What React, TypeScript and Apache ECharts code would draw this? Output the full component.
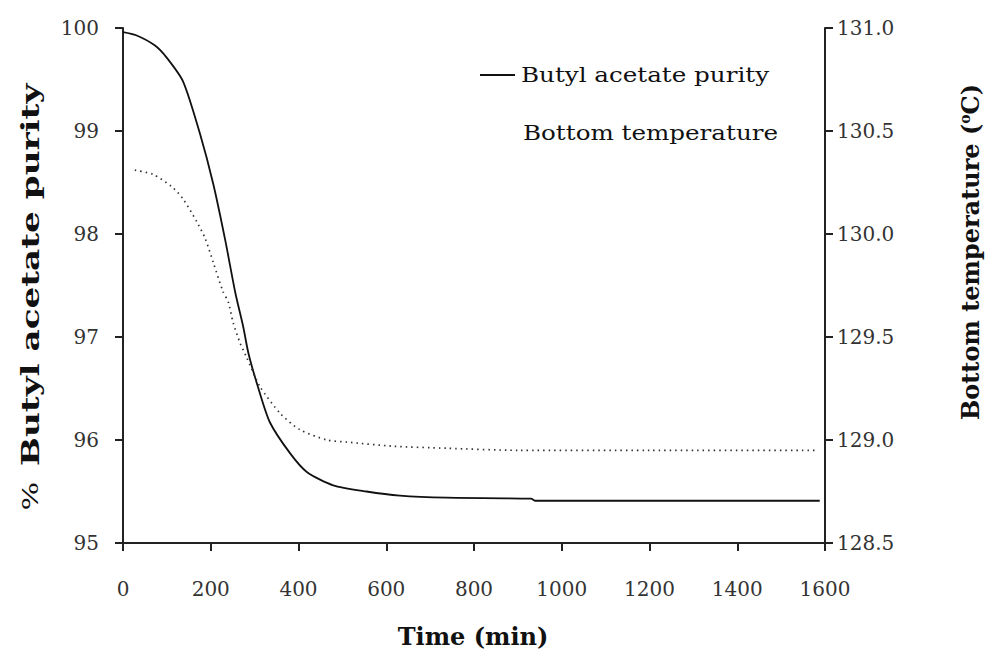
import React, { useEffect, useRef } from "react";
import * as echarts from "echarts";

const purityTime = [0, 30, 73, 100, 137, 175, 206, 233, 256, 274, 286, 308, 335, 381, 419, 479, 555, 631, 738, 930, 940, 1200, 1400, 1588];
const purityValues = [99.96, 99.93, 99.83, 99.71, 99.48, 98.98, 98.48, 97.94, 97.43, 97.1, 96.84, 96.51, 96.17, 95.87, 95.69, 95.56, 95.5, 95.46, 95.44, 95.43, 95.41, 95.41, 95.41, 95.41];

const tempTime = [27, 68, 111, 137, 168, 187, 206, 228, 240, 251, 267, 282, 312, 358, 403, 465, 510, 615, 738, 900, 1200, 1578];
const tempValues = [130.31, 130.29, 130.23, 130.17, 130.06, 129.98, 129.86, 129.72, 129.67, 129.57, 129.47, 129.4, 129.26, 129.13, 129.05, 129.0, 128.99, 128.97, 128.96, 128.95, 128.95, 128.95];

const seriesNames = ["Butyl acetate purity", "Bottom temperature"];
const xTitle = "Time (min)";

const FONT = "DejaVu Serif";

export default function App() {
  const ref = useRef<HTMLDivElement>(null);
  useEffect(() => {
    if (!ref.current) return;
    const chart = echarts.init(ref.current, null, { renderer: "svg" });
    const axisLine = { show: true, lineStyle: { color: "#222", width: 2 } };
    const axisTick = { show: true, inside: false, length: 8, lineStyle: { color: "#222", width: 2 } };
    const label = { color: "#333", fontFamily: FONT, fontSize: 20 };
    chart.setOption({
      animation: false,
      backgroundColor: "#fff",
      grid: { left: 123, right: 164, top: 28, bottom: 123, containLabel: false },
      xAxis: {
        type: "value",
        min: 0,
        max: 1600,
        interval: 200,
        axisLine,
        axisTick,
        splitLine: { show: false },
        axisLabel: { ...label, margin: 36, formatter: (v: number) => String(v) },
      },
      yAxis: [
        {
          type: "value",
          min: 95,
          max: 100,
          interval: 1,
          position: "left",
          axisLine,
          axisTick,
          splitLine: { show: false },
          axisLabel: { ...label, margin: 24 },
        },
        {
          type: "value",
          min: 128.5,
          max: 131,
          interval: 0.5,
          position: "right",
          axisLine,
          axisTick,
          splitLine: { show: false },
          axisLabel: { ...label, margin: 12, formatter: (v: number) => v.toFixed(1) },
        },
      ],
      series: [
        {
          name: seriesNames[0],
          type: "line",
          yAxisIndex: 0,
          showSymbol: false,
          smooth: 0.25,
          lineStyle: { color: "#111", width: 1.8 },
          data: purityTime.map((t, i) => [t, purityValues[i]]),
        },
        {
          name: seriesNames[1],
          type: "line",
          yAxisIndex: 1,
          showSymbol: false,
          smooth: 0.25,
          lineStyle: { color: "#333", width: 1.7, type: [1.5, 4] },
          data: tempTime.map((t, i) => [t, tempValues[i]]),
        },
      ],
      graphic: [
        {
          type: "line",
          shape: { x1: 480, y1: 75, x2: 515, y2: 75 },
          style: { stroke: "#111", lineWidth: 1.8 },
        },
        {
          type: "text",
          x: 521,
          y: 75,
          scaleX: 1.23,
          style: { text: seriesNames[0], fontFamily: FONT, fontSize: 20, fill: "#111", align: "left", verticalAlign: "middle" },
        },
        {
          type: "text",
          x: 523,
          y: 133,
          scaleX: 1.23,
          style: { text: seriesNames[1], fontFamily: FONT, fontSize: 20, fill: "#111", align: "left", verticalAlign: "middle" },
        },
        {
          type: "text",
          x: 473,
          y: 636,
          style: { text: xTitle, fontFamily: FONT, fontSize: 24, fontWeight: "bold", fill: "#111", align: "center", verticalAlign: "middle" },
        },
        {
          type: "text",
          x: 30,
          y: 297,
          rotation: Math.PI / 2,
          scaleX: 1.37,
          style: {
            text: "{a|%}   {b|Butyl acetate purity}",
            fontFamily: FONT,
            align: "center",
            verticalAlign: "middle",
            rich: {
              a: { fontFamily: FONT, fontSize: 22, fill: "#111" },
              b: { fontFamily: FONT, fontSize: 25, fontWeight: "bold", fill: "#111" },
            },
          },
        },
        {
          type: "text",
          x: 970,
          y: 252,
          rotation: Math.PI / 2,
          style: {
            text: "{b|Bottom temperature (}{s|o}{b|C)}",
            fontFamily: FONT,
            align: "center",
            verticalAlign: "middle",
            rich: {
              b: { fontFamily: FONT, fontSize: 24, fontWeight: "bold", fill: "#111" },
              s: { fontFamily: FONT, fontSize: 14, fontWeight: "bold", fill: "#111", verticalAlign: "top" },
            },
          },
        },
      ],
    });
    return () => chart.dispose();
  }, []);
  return (
    <div
      ref={ref}
      style={{ position: "fixed", left: 0, top: 0, width: 989, height: 666, background: "#fff" }}
    />
  );
}
